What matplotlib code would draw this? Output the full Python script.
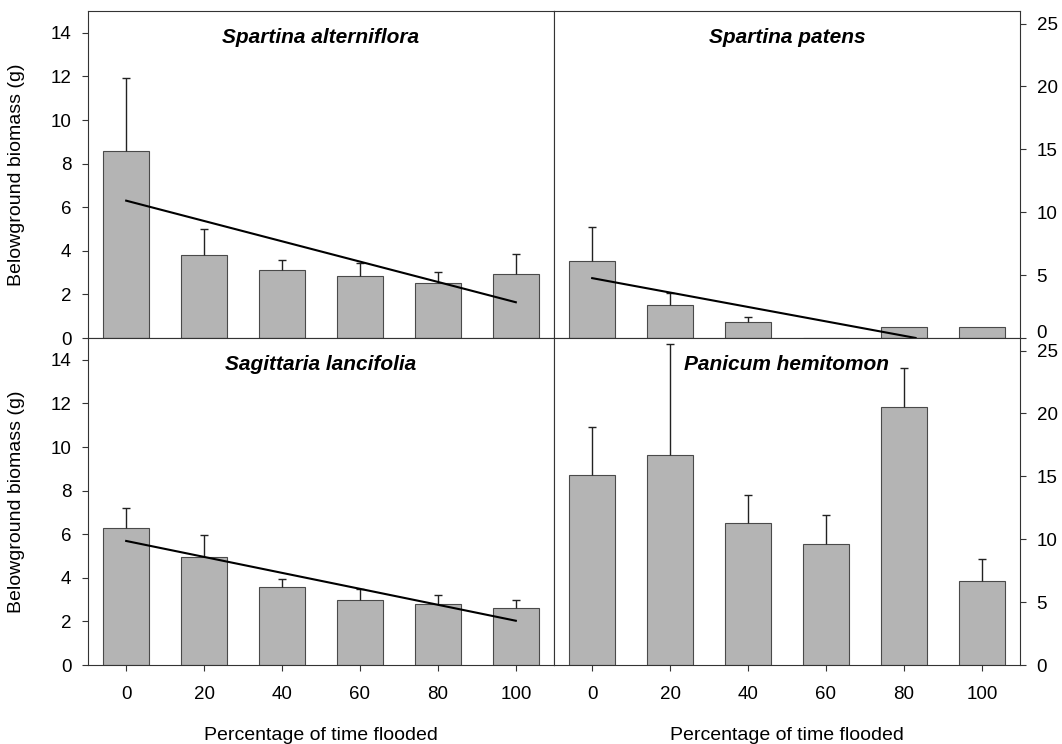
import numpy as np
import matplotlib
matplotlib.use("Agg")
import matplotlib.pyplot as plt

plt.rcParams["font.family"] = ["Liberation Sans", "DejaVu Sans"]

# =========================
# DATA
# =========================
flood = [0, 20, 40, 60, 80, 100]

species = ["Spartina alterniflora", "Spartina patens",
           "Sagittaria lancifolia", "Panicum hemitomon"]

alt_mean = [8.6, 3.82, 3.1, 2.83, 2.52, 2.94]
alt_top = [11.94, 5.0, 3.58, 3.44, 3.03, 3.85]

pat_mean = [6.1, 2.6, 1.3, 0.0, 0.9, 0.9]
pat_top = [8.8, 3.55, 1.65, 0.0, 0.9, 0.9]

sag_mean = [6.27, 4.97, 3.6, 2.98, 2.8, 2.6]
sag_top = [7.19, 5.97, 3.93, 3.49, 3.23, 2.98]

pan_mean = [15.1, 16.7, 11.3, 9.65, 20.5, 6.65]
pan_top = [18.9, 25.5, 13.5, 11.9, 23.6, 8.4]

# regression lines: (intercept, slope, last x)
alt_fit = (6.3, -0.0466, 100)
pat_fit = (4.76, -0.0573, 83)
sag_fit = (5.69, -0.0366, 100)
pan_fit = None

panels = [
    (species[0], alt_mean, alt_top, alt_fit),
    (species[1], pat_mean, pat_top, pat_fit),
    (species[2], sag_mean, sag_top, sag_fit),
    (species[3], pan_mean, pan_top, pan_fit),
]

# =========================
# PLOT
# =========================
fig = plt.figure(figsize=(10.62, 7.44), dpi=100)

W, H = 1062, 744
left_x = [88, 554]
top_y = [11, 338]
pw, ph = 466, 327

x = np.arange(len(flood))
step = flood[1] - flood[0]

for i, (name, mean, top, fit) in enumerate(panels):
    row, col = divmod(i, 2)
    ax = fig.add_axes([left_x[col] / W, 1 - (top_y[row] + ph) / H, pw / W, ph / H])
    mean = np.array(mean)
    err = np.array(top) - mean
    ax.bar(x, mean, width=0.59, color="#b4b4b4", edgecolor="#4a4a4a", linewidth=0.8, zorder=2)
    has_err = err > 0
    eb = ax.errorbar(x[has_err], mean[has_err],
                     yerr=[np.zeros(has_err.sum()), err[has_err]], fmt="none",
                     ecolor="#222222", elinewidth=1.0, capsize=3, capthick=1.0, zorder=3)
    # only the upper cap
    eb[1][0].set_visible(False)
    if fit is not None:
        b0, b1, xend = fit
        xs = np.array([0, xend])
        ax.plot(xs / step, b0 + b1 * xs, color="black", lw=1.5, zorder=4)

    ax.set_xlim(-0.49, 5.49)
    ax.text(0.5, 0.92, name, transform=ax.transAxes, ha="center", va="center",
            fontsize=15, fontweight="bold", fontstyle="italic")

    if col == 0:
        ax.set_ylim(0, 15)
        ax.set_yticks(range(0, 15, 2))
        ax.set_ylabel("Belowground biomass (g)", fontsize=14)
        ax.yaxis.set_label_coords(-0.135, 0.5)
    else:
        ax.set_ylim(0, 26)
        ax.set_yticks(range(0, 26, 5))
        ax.yaxis.tick_right()

    if row == 1:
        ax.set_xticks(x)
        ax.set_xticklabels(flood)
        ax.set_xlabel("Percentage of time flooded", fontsize=14)
        ax.xaxis.set_label_coords(0.5, -0.19)
    else:
        ax.set_xticks([])

    ax.tick_params(direction="out", length=4, width=0.8, labelsize=13.5, color="#333333")
    ax.tick_params(axis="x", pad=11)
    ax.tick_params(axis="y", pad=8)
    for s in ax.spines.values():
        s.set_linewidth(0.8)
        s.set_color("#333333")

    # lift the 0 label of the upper right panel so it clears the 25 below
    if row == 0 and col == 1:
        ax.yaxis.get_major_ticks()[0].label2.set_va("baseline")

fig.savefig("out.png", dpi=100)
